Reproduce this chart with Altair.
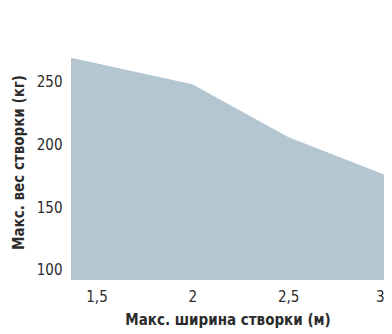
import altair as alt
import pandas as pd

widths = [1.367, 2.0, 2.5, 3.0]
weights = [269, 248, 206, 176]
x_ticks = [1.5, 2.0, 2.5, 3.0]
y_ticks = [100, 150, 200, 250]

df = pd.DataFrame({"w": widths, "kg": weights})

FONT = "'DejaVu Sans Condensed', 'Roboto Condensed', 'Liberation Sans Narrow', Roboto, sans-serif"
TXT = "#2b2b2b"

chart = (
    alt.Chart(df)
    .mark_area(color="#b4c6d1", opacity=1, clip=True)
    .encode(
        x=alt.X(
            "w:Q",
            scale=alt.Scale(domain=[1.367, 3.0], nice=False, zero=False),
            axis=alt.Axis(
                values=x_ticks,
                labelExpr="replace(format(datum.value, '.2~f'), '.', ',')",
                title="Макс. ширина створки (м)",
                domain=False, ticks=False, grid=False,
                labelPadding=9, titlePadding=8,
                labelFontSize=15, titleFontSize=15, titleFontWeight="bold",
                labelFont=FONT, titleFont=FONT,
                labelColor=TXT, titleColor=TXT,
            ),
        ),
        y=alt.Y(
            "kg:Q",
            scale=alt.Scale(domain=[92, 280], nice=False, zero=False),
            axis=alt.Axis(
                values=y_ticks,
                title="Макс. вес створки (кг)",
                domain=False, ticks=False, grid=False,
                labelPadding=9, titlePadding=10,
                labelFontSize=15, titleFontSize=15, titleFontWeight="bold",
                labelFont=FONT, titleFont=FONT,
                labelColor=TXT, titleColor=TXT,
            ),
        ),
    )
    .properties(
        width=313,
        height=236,
        autosize=alt.AutoSizeParams(type="none"),
        padding={"left": 63, "top": 36, "right": 0, "bottom": 54},
    )
    .configure_view(stroke=None)
)

chart.save("out.html", embed_options={"renderer": "svg", "actions": False})
